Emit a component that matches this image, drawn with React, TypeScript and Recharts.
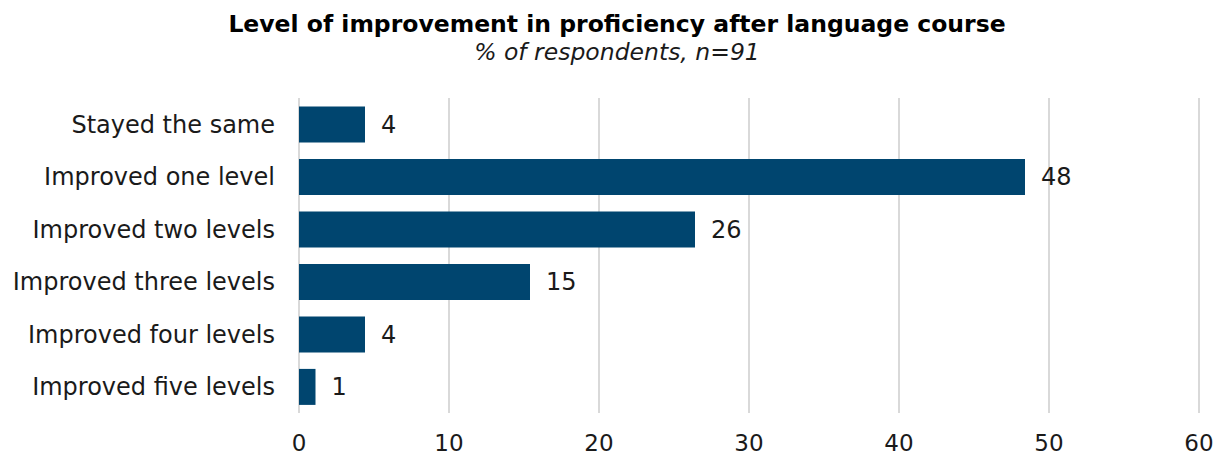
import { Bar, BarChart, CartesianGrid, LabelList, XAxis, YAxis } from "recharts";

const categories = [
  "Stayed the same",
  "Improved one level",
  "Improved two levels",
  "Improved three levels",
  "Improved four levels",
  "Improved five levels",
];
const shares = [4.4, 48.4, 26.4, 15.4, 4.4, 1.1];
const xTicks = [0, 10, 20, 30, 40, 50, 60];

const FONT = "'DejaVu Sans', Verdana, sans-serif";
const BAR_COLOR = "#00456f";

const rows = categories.map((name, i) => ({ name, value: shares[i] }));

export default function App() {
  return (
    <div style={{ position: "relative", width: 1224, height: 457, background: "#fff", fontFamily: FONT }}>
      <style>{"body{margin:0}"}</style>
      <div
        style={{
          position: "absolute",
          top: 10,
          left: 0,
          width: 1234,
          textAlign: "center",
          fontWeight: "bold",
          fontSize: 23.5,
          lineHeight: "28px",
          color: "#000",
        }}
      >
        Level of improvement in proficiency after language course
      </div>
      <div
        style={{
          position: "absolute",
          top: 38,
          left: 0,
          width: 1234,
          textAlign: "center",
          fontStyle: "italic",
          fontSize: 23.5,
          lineHeight: "28px",
          color: "#1a1a1a",
        }}
      >
        % of respondents, n=91
      </div>
      <BarChart
        width={1224}
        height={457}
        data={rows}
        layout="vertical"
        margin={{ top: 98, right: 25, bottom: 0, left: 0 }}
        barCategoryGap="16%"
      >
        <CartesianGrid vertical horizontal={false} stroke="#d9d9d9" strokeWidth={2} />
        <XAxis
          type="number"
          domain={[0, 60]}
          ticks={xTicks}
          axisLine={false}
          tickLine={false}
          height={44}
          tickMargin={16}
          tick={{ fontSize: 23, fill: "#1a1a1a", fontFamily: FONT }}
        />
        <YAxis
          type="category"
          dataKey="name"
          width={299}
          axisLine={false}
          tickLine={false}
          tickMargin={18}
          tick={{ fontSize: 24, fill: "#1a1a1a", fontFamily: FONT }}
        />
        <Bar dataKey="value" fill={BAR_COLOR} isAnimationActive={false}>
          <LabelList
            dataKey="value"
            position="right"
            offset={16}
            formatter={(v: number) => Math.round(v)}
            style={{ fontSize: 24, fill: "#1a1a1a", fontFamily: FONT }}
          />
        </Bar>
      </BarChart>
    </div>
  );
}
